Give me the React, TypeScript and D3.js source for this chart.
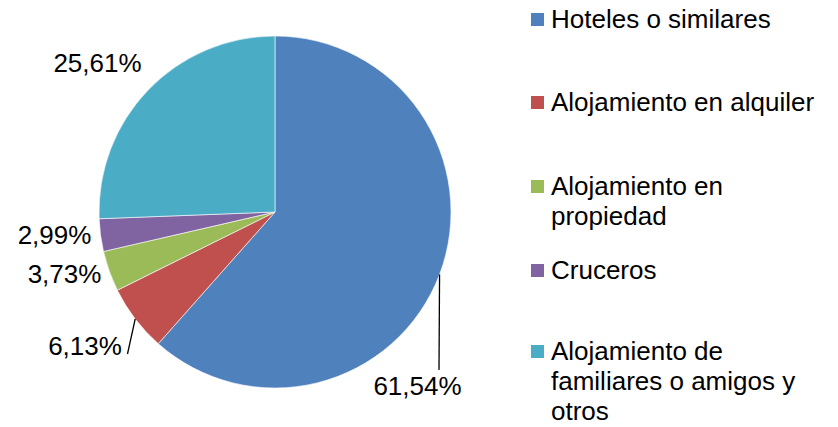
import React from 'react';
import * as d3 from 'd3';

// categorias y valores (%)
const categories = [
  'Hoteles o similares',
  'Alojamiento en alquiler',
  'Alojamiento en propiedad',
  'Cruceros',
  'Alojamiento de familiares o amigos y otros',
];
const values = [61.54, 6.13, 3.73, 2.99, 25.61];
const valueLabels = ['61,54%', '6,13%', '3,73%', '2,99%', '25,61%'];
const legendLines = [
  ['Hoteles o similares'],
  ['Alojamiento en alquiler'],
  ['Alojamiento en', 'propiedad'],
  ['Cruceros'],
  ['Alojamiento de', 'familiares o amigos y', 'otros'],
];
const colors = ['#4F81BD', '#C0504D', '#9BBB59', '#8064A2', '#4BACC6'];

// layout
const W = 838;
const H = 427;
const cx = 275;
const cy = 212;
const R = 176;
// posicion de etiquetas (centro x, linea base y) y si llevan linea guia
const labelLayout = [
  { x: 417.5, y: 395, leader: [439, 370] },
  { x: 85, y: 355, leader: [127.5, 354] },
  { x: 64.5, y: 283, leader: null },
  { x: 54.5, y: 244, leader: null },
  { x: 97.5, y: 72, leader: null },
];
const legendBaselines = [28, 111, 195, 279, 360];
const lineH = 30;
const font = 'Liberation Sans, Arial, sans-serif';

export default function App() {
  const pie = d3
    .pie<number>()
    .sort(null)
    .value((d) => d)
    .startAngle(0)
    .endAngle(2 * Math.PI);
  const arcs = pie(values);
  const arc = d3.arc<d3.PieArcDatum<number>>().innerRadius(0).outerRadius(R);

  return (
    <svg
      width={W}
      height={H}
      style={{ position: 'absolute', left: 0, top: 0, background: '#fff' }}
      fontFamily={font}
    >
      <g transform={`translate(${cx},${cy})`}>
        {arcs.map((a, i) => (
          <path key={categories[i]} d={arc(a) || ''} fill={colors[i]} stroke="#fff" strokeWidth={0.6} />
        ))}
      </g>

      {/* etiquetas de datos */}
      {arcs.map((a, i) => {
        const lay = labelLayout[i];
        const mid = (a.startAngle + a.endAngle) / 2;
        const ax = cx + Math.sin(mid) * R;
        const ay = cy - Math.cos(mid) * R;
        return (
          <g key={'lbl' + i}>
            {lay.leader && (
              <line x1={ax} y1={ay} x2={lay.leader[0]} y2={lay.leader[1]} stroke="#000" strokeWidth={1.3} />
            )}
            <text x={lay.x} y={lay.y} fontSize={26} textAnchor="middle" fill="#000">
              {valueLabels[i]}
            </text>
          </g>
        );
      })}

      {/* leyenda */}
      {legendLines.map((lines, i) => (
        <g key={'leg' + i}>
          <rect x={531} y={legendBaselines[i] - 15} width={13} height={13} fill={colors[i]} />
          <text x={551} y={legendBaselines[i]} fontSize={26} fill="#000">
            {lines.map((t, j) => (
              <tspan key={j} x={551} y={legendBaselines[i] + j * lineH}>
                {t}
              </tspan>
            ))}
          </text>
        </g>
      ))}
    </svg>
  );
}
